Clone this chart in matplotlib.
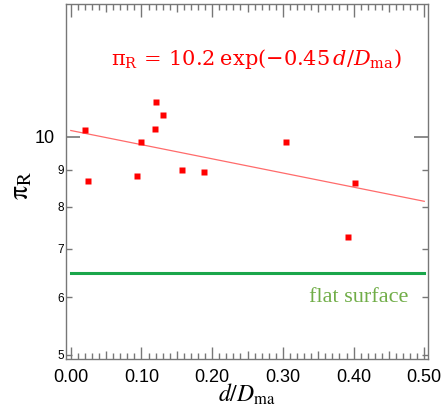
import numpy as np
import matplotlib
matplotlib.use('Agg')
import matplotlib.pyplot as plt
from matplotlib.ticker import FixedLocator, NullFormatter, FormatStrFormatter

# measured ratio pi_R against relative roughness depth d/D_ma
d_ratio = [0.020, 0.025, 0.094, 0.099, 0.119, 0.121, 0.130, 0.158, 0.188, 0.304, 0.392, 0.402]
pi_r = [10.21, 8.70, 8.83, 9.83, 10.25, 11.18, 10.71, 8.99, 8.94, 9.83, 7.26, 8.63]

# fit pi_R = a exp(b d/D_ma)
fit_a = 10.2
fit_b = -0.45
flat_level = 6.48

x_major = [0.0, 0.1, 0.2, 0.3, 0.4, 0.5]
y_major = [10]
y_minor = [5, 6, 7, 8, 9]

plt.rcParams['mathtext.fontset'] = 'stix'
plt.rcParams['font.family'] = ['Liberation Sans', 'DejaVu Sans']

fig = plt.figure(figsize=(4.47, 4.15), dpi=100)
ax = fig.add_axes([0.147, 0.135, 0.811, 0.855])

# fit line and flat surface reference
xf = np.linspace(0, 0.5, 50)
ax.plot(xf, fit_a * np.exp(fit_b * xf), color='#ff6b6b', lw=0.9, zorder=2)
ax.plot([0, 0.5], [flat_level, flat_level], color='#1aa64b', lw=2.2, zorder=2)
ax.plot(d_ratio, pi_r, 's', color='#ff0000', ms=4.4, mec='none', zorder=3)

ax.set_yscale('log')
ax.set_xlim(-0.0072, 0.5056)
ax.set_ylim(4.935, 15.24)

# y ticks: 10 is major, 5-9 minor with small labels
ax.yaxis.set_major_locator(FixedLocator(y_major))
ax.yaxis.set_minor_locator(FixedLocator(y_minor))
ax.yaxis.set_major_formatter(FormatStrFormatter('%d'))
ax.yaxis.set_minor_formatter(FormatStrFormatter('%d'))
ax.tick_params(axis='y', which='major', direction='in', length=10, width=1.2,
               labelsize=13, pad=8, left=True, right=True, color='#777777')
ax.tick_params(axis='y', which='minor', direction='in', length=4.5, width=1.0,
               labelsize=8.5, pad=1.5, left=True, right=True, color='#777777')

# x ticks: 0.1 major, 0.05 medium, 0.01 minor
ax.xaxis.set_major_locator(FixedLocator(x_major))
ax.xaxis.set_major_formatter(FormatStrFormatter('%.2f'))
minor_x = [i / 100 for i in range(51) if i % 5 != 0]
ax.xaxis.set_minor_locator(FixedLocator(minor_x))
ax.xaxis.set_minor_formatter(NullFormatter())
ax.tick_params(axis='x', which='major', direction='in', length=9, width=1.0,
               labelsize=13, pad=7, top=True, bottom=True, color='#777777')
ax.tick_params(axis='x', which='minor', direction='in', length=4, width=1.0,
               top=True, bottom=True, color='#777777')
mid_x = [i / 100 for i in range(5, 50, 10)]
for side in ('bottom', 'top'):
    sec = ax.secondary_xaxis(side)
    sec.set_xticks(mid_x)
    sec.set_xticklabels([])
    sec.tick_params(direction='in', length=5.8, width=1.0, color='#777777')
    sec.spines[side].set_visible(False)

for sp in ax.spines.values():
    sp.set_color('#777777')
    sp.set_linewidth(1.0)

ax.set_xlabel(r'$d/D_{\rm ma}$', fontsize=17, labelpad=0)
ax.xaxis.set_label_coords(0.5, -0.10, transform=ax.transAxes)
ax.xaxis.label.set_va('center')
ax.set_ylabel(r'$\mathrm{π}_{\rm R}$', fontsize=20)
ax.yaxis.set_label_coords(-0.085, 0.49)

ax.text(0.262, 12.56, r'$\mathrm{π}_{\rm R}\,=\,10.2\;\mathrm{exp}(-0.45\,d/D_{\rm ma})$',
        color='#ff0000', fontsize=15, ha='center', va='baseline',
        math_fontfamily='dejavuserif')
ax.text(0.478, 6.0, 'flat surface', color='#70ad47', fontsize=16,
        family=['Liberation Serif', 'DejaVu Serif'], ha='right', va='center')

fig.savefig('out.png', dpi=100)
